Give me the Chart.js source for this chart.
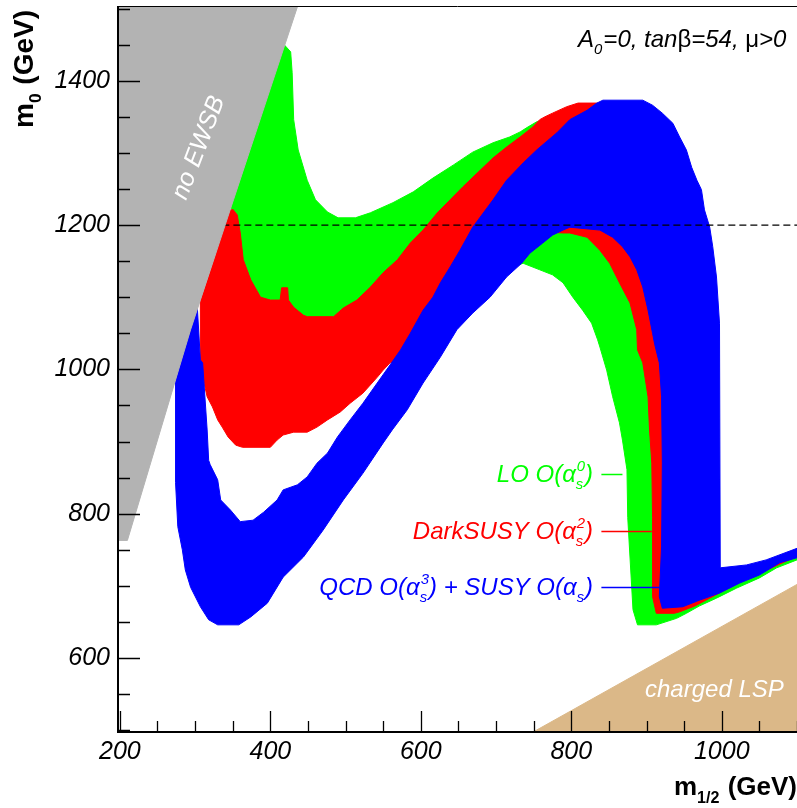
<!DOCTYPE html>
<html>
<head>
<meta charset="utf-8">
<script src="https://cdn.jsdelivr.net/npm/chart.js@4.4.0/dist/chart.umd.min.js"></script>
<style>
  html, body { margin: 0; padding: 0; background: #fff; }
  canvas { display: block; }
</style>
</head>
<body>
<canvas id="relicChart" width="797" height="808"></canvas>
<script>
// m1/2 (x) and m0 (y) in GeV, region outlines
const m0Line = 1200;
const xLabelTicks = [200, 400, 600, 800, 1000];
const yLabelTicks = [600, 800, 1000, 1200, 1400];

const noEwsb = [[190, 1515], [440, 1515], [351, 1235], [294, 1055], [210, 763], [190, 763]];
const chargedLsp = [[1100, 495], [745, 495], [1100, 702]];

// LO O(as^0)
const loBand = [
  [413, 1456], [427, 1440], [429, 1411], [431, 1346], [437, 1304], [449, 1262], [460, 1235],
  [476, 1218], [490, 1210], [513, 1210], [533, 1217], [563, 1231], [590, 1246], [616, 1265],
  [643, 1283], [669, 1301], [696, 1314], [718, 1322], [732, 1329], [741, 1335], [754, 1343],
  [769, 1346], [811, 1339], [891, 1318], [957, 1165], [970, 958], [977, 715], [1050, 722], [1100, 746],
  [1100, 736], [1073, 725], [1050, 711], [1020, 697], [993, 683], [970, 672], [953, 662], [940, 655],
  [913, 646], [888, 646], [882, 667], [878, 740], [875, 795], [874, 861], [868, 902], [864, 926],
  [855, 962], [847, 999], [838, 1031], [835, 1041], [827, 1064], [815, 1082], [802, 1100], [789, 1120],
  [775, 1131], [758, 1138], [736, 1147], [705, 1135], [639, 1096], [546, 1055], [440, 1013],
  [367, 1068], [354, 1214], [340, 1235]
];

// DarkSUSY O(as^2)
const darkSusyBand = [
  [350, 1222], [356, 1214], [360, 1189], [364, 1152], [374, 1124], [387, 1100], [400, 1096], [413, 1096],
  [415, 1113], [423, 1113], [424, 1096], [431, 1086], [444, 1075], [449, 1073], [484, 1073], [497, 1085],
  [515, 1096], [533, 1114], [550, 1134], [569, 1152], [586, 1175], [603, 1193], [622, 1217], [639, 1235],
  [656, 1253], [675, 1272], [696, 1293], [714, 1308], [732, 1322], [749, 1336], [758, 1346], [765, 1350],
  [775, 1355], [794, 1364], [809, 1369], [834, 1369], [864, 1359], [904, 1304], [937, 1207], [957, 1068],
  [964, 715], [1024, 715], [1100, 745], [1100, 741], [1024, 705], [984, 683], [964, 672], [944, 664],
  [937, 662], [913, 662], [908, 685], [908, 795], [907, 870], [904, 916], [902, 962], [895, 1009],
  [888, 1027], [887, 1055], [878, 1092], [864, 1120], [851, 1147], [838, 1165], [821, 1183], [798, 1189],
  [789, 1189], [771, 1190], [732, 1165], [679, 1117], [626, 1062], [573, 1013], [559, 1009], [550, 999],
  [542, 989], [523, 967], [506, 953], [493, 941], [476, 930], [462, 920], [449, 913], [431, 913],
  [417, 909], [409, 902], [400, 892], [363, 892], [354, 895], [344, 906], [336, 920], [330, 930],
  [323, 948], [316, 962], [311, 985], [307, 1013], [307, 1096], [327, 1159], [344, 1222]
];

// QCD O(as^3) + SUSY O(as)
const qcdBand = [
  [303, 1085], [307, 1013], [310, 1009], [316, 916], [318, 874], [320, 868], [330, 847], [334, 819],
  [347, 805], [360, 789], [377, 791], [391, 802], [409, 819], [417, 833], [436, 840], [449, 851],
  [462, 870], [476, 884], [489, 906], [506, 930], [523, 953], [542, 981], [559, 1006], [573, 1027],
  [586, 1050], [603, 1082], [616, 1100], [626, 1120], [639, 1142], [652, 1165], [669, 1197], [679, 1211],
  [696, 1235], [714, 1262], [736, 1286], [754, 1304], [781, 1328], [798, 1346], [821, 1359], [834, 1369],
  [842, 1373], [895, 1373], [908, 1366], [921, 1355], [935, 1341], [944, 1322], [953, 1304], [960, 1280],
  [967, 1262], [973, 1249], [977, 1221], [984, 1197], [988, 1170], [993, 1128], [997, 1064], [998, 725],
  [1033, 729], [1059, 736], [1100, 752], [1100, 739], [1077, 732], [1050, 715], [1024, 704], [997, 690],
  [970, 680], [948, 671], [921, 669], [917, 685], [920, 754], [921, 870], [920, 962], [917, 1009],
  [911, 1034], [908, 1050], [902, 1082], [895, 1114], [887, 1138], [878, 1156], [868, 1170], [855, 1183],
  [838, 1193], [798, 1197], [789, 1193], [775, 1186], [762, 1175], [745, 1161], [734, 1147], [714, 1128],
  [692, 1100], [669, 1078], [648, 1055], [626, 1017], [603, 981], [582, 944], [562, 916], [550, 898],
  [523, 856], [497, 819], [470, 777], [444, 740], [417, 712], [396, 676], [374, 657], [358, 646],
  [330, 646], [318, 653], [307, 671], [294, 698], [287, 722], [283, 750], [277, 782], [274, 843],
  [274, 985], [287, 1034]
];

const FONT = '"Liberation Sans", Arial, Helvetica, sans-serif';
const toPoints = band => band.map(([x, y]) => ({x, y}));

const region = (band, color, order) => ({
  data: toPoints(band),
  showLine: true,
  fill: 'shape',
  backgroundColor: color,
  borderColor: color,
  borderWidth: 1,
  pointRadius: 0,
  order: order
});

// ticks every 50 GeV, labels only on the 200 GeV marks
const everyFifty = (from, to) => s => {
  s.ticks = [];
  for (let v = from; v <= to; v += 50) s.ticks.push({value: v});
};

// small rich text helper: strings, {up: 'β'} upright glyphs, {sub, sup} stacked indices
function setFont(ctx, size, style) {
  ctx.font = style + ' ' + size + 'px ' + FONT;
}
function richWidth(ctx, parts, size, style) {
  let w = 0;
  parts.forEach(p => {
    if (typeof p === 'string') { setFont(ctx, size, style); w += ctx.measureText(p).width; }
    else if (p.up) { setFont(ctx, size, style.replace('italic', 'normal')); w += ctx.measureText(p.up).width; }
    else {
      setFont(ctx, size * 0.62, style);
      w += Math.max(p.sub ? ctx.measureText(p.sub).width : 0, p.sup ? ctx.measureText(p.sup).width : 0) + 1;
    }
  });
  return w;
}
function drawRich(ctx, parts, x, y, size, style, align) {
  let cx = align === 'right' ? x - richWidth(ctx, parts, size, style) : x;
  ctx.textAlign = 'left';
  ctx.textBaseline = 'alphabetic';
  parts.forEach(p => {
    if (typeof p === 'string') {
      setFont(ctx, size, style);
      ctx.fillText(p, cx, y);
      cx += ctx.measureText(p).width;
    } else if (p.up) {
      setFont(ctx, size, style.replace('italic', 'normal'));
      ctx.fillText(p.up, cx, y);
      cx += ctx.measureText(p.up).width;
    } else {
      setFont(ctx, size * 0.62, style);
      let w = 0;
      if (p.sub) { ctx.fillText(p.sub, cx, y + size * 0.3); w = ctx.measureText(p.sub).width; }
      if (p.sup) { ctx.fillText(p.sup, cx + 1, y - size * 0.42); w = Math.max(w, ctx.measureText(p.sup).width); }
      cx += w + 1;
    }
  });
}

const annotations = {
  id: 'annotations',
  afterDraw(chart) {
    const {ctx, chartArea: a} = chart;
    const ax = v => chart.scales.x.getPixelForValue(v);
    const ay = v => chart.scales.y.getPixelForValue(v);
    ctx.save();

    // legend entries with pointer lines
    const entries = [
      {color: '#00ff00', y: 855, x2: 868, parts: ['LO O(', 'α', {sub: 's', sup: '0'}, ')']},
      {color: '#ff0000', y: 776, x2: 907, parts: ['DarkSUSY O(', 'α', {sub: 's', sup: '2'}, ')']},
      {color: '#0000ff', y: 698, x2: 917, parts: ['QCD O(', 'α', {sub: 's', sup: '3'}, ') + SUSY O(', 'α', {sub: 's'}, ')']}
    ];
    entries.forEach(e => {
      const py = Math.round(ay(e.y)) + 0.5;
      ctx.strokeStyle = e.color;
      ctx.lineWidth = 1.5;
      ctx.beginPath();
      ctx.moveTo(ax(840), py);
      ctx.lineTo(ax(e.x2), py);
      ctx.stroke();
      ctx.fillStyle = e.color;
      drawRich(ctx, e.parts, ax(829), py + 7, 24, 'italic', 'right');
    });

    ctx.fillStyle = '#000';
    drawRich(ctx, ['A', {sub: '0'}, '=0, tan', {up: 'β'}, '=54, ', {up: 'μ'}, '>0'], ax(1086), ay(1447), 24, 'italic', 'right');

    // region names
    ctx.fillStyle = '#fff';
    drawRich(ctx, ['charged LSP'], ax(898), ay(546), 24, 'italic', 'left');
    ctx.save();
    ctx.translate(ax(305), ay(1307));
    ctx.rotate(-69 * Math.PI / 180);
    setFont(ctx, 25, 'italic');
    ctx.textAlign = 'center';
    ctx.textBaseline = 'middle';
    ctx.fillText('no EWSB', 0, 0);
    ctx.restore();

    // axis titles
    ctx.fillStyle = '#000';
    drawRich(ctx, ['m', {sub: '1/2'}, ' (GeV)'], a.right, 795, 26, 'bold', 'right');
    ctx.save();
    ctx.translate(33, 128);
    ctx.rotate(-Math.PI / 2);
    drawRich(ctx, ['m', {sub: '0'}, ' (GeV)'], 0, 0, 28, 'bold', 'left');
    ctx.restore();

    // frame and inward ticks
    ctx.strokeStyle = '#000';
    ctx.lineWidth = 2;
    ctx.beginPath();
    ctx.moveTo(a.left, a.top);
    ctx.lineTo(a.left, a.bottom);
    ctx.lineTo(a.right, a.bottom);
    ctx.stroke();
    ctx.lineWidth = 1;
    ctx.beginPath();
    ctx.moveTo(a.left, a.top + 0.5);
    ctx.lineTo(a.right, a.top + 0.5);
    ctx.stroke();
    ctx.lineWidth = 1.3;
    ctx.beginPath();
    chart.scales.x.ticks.forEach(t => {
      const px = Math.round(ax(t.value)) + 0.5;
      const len = t.value % 200 === 0 ? 21 : 11;
      ctx.moveTo(px, a.bottom);
      ctx.lineTo(px, a.bottom - len);
    });
    chart.scales.y.ticks.forEach(t => {
      const py = Math.round(ay(t.value)) + 0.5;
      const len = t.value % 200 === 0 ? 22 : 12;
      ctx.moveTo(a.left, py);
      ctx.lineTo(a.left + len, py);
    });
    ctx.stroke();
    ctx.restore();
  }
};

const ctx = document.getElementById('relicChart').getContext('2d');
const relicChart = new Chart(ctx, {
  type: 'scatter',
  data: {
    datasets: [
      region(loBand, '#00ff00', 6),
      region(darkSusyBand, '#ff0000', 5),
      region(qcdBand, '#0000ff', 4),
      {
        data: [{x: 190, y: m0Line}, {x: 1100, y: m0Line}],
        showLine: true,
        fill: false,
        borderColor: '#000',
        borderWidth: 1.2,
        borderDash: [7, 4],
        pointRadius: 0,
        order: 3
      },
      region(chargedLsp, '#dbb888', 2),
      region(noEwsb, '#b3b3b3', 1)
    ]
  },
  options: {
    responsive: false,
    animation: false,
    events: [],
    layout: {padding: {top: 6, right: 0, left: 0, bottom: 0}},
    plugins: {legend: {display: false}, tooltip: {enabled: false}},
    scales: {
      x: {
        type: 'linear',
        min: 197.5,
        max: 1100,
        grid: {display: false, drawTicks: false},
        border: {display: false},
        afterBuildTicks: everyFifty(200, 1100),
        ticks: {
          autoSkip: false,
          maxRotation: 0,
          padding: 5,
          color: '#000',
          font: {family: FONT, size: 25, style: 'italic'},
          callback: v => xLabelTicks.includes(v) ? String(v) : ''
        },
        afterFit: s => { s.height = 76; s.paddingLeft = 0; s.paddingRight = 0; }
      },
      y: {
        type: 'linear',
        min: 497.5,
        max: 1503.5,
        grid: {display: false, drawTicks: false},
        border: {display: false},
        afterBuildTicks: everyFifty(500, 1500),
        ticks: {
          autoSkip: false,
          padding: 8,
          color: '#000',
          font: {family: FONT, size: 25, style: 'italic'},
          callback: v => yLabelTicks.includes(v) ? String(v) : ''
        },
        afterFit: s => { s.width = 118; s.paddingTop = 0; s.paddingBottom = 0; }
      }
    }
  },
  plugins: [annotations]
});
</script>
</body>
</html>
